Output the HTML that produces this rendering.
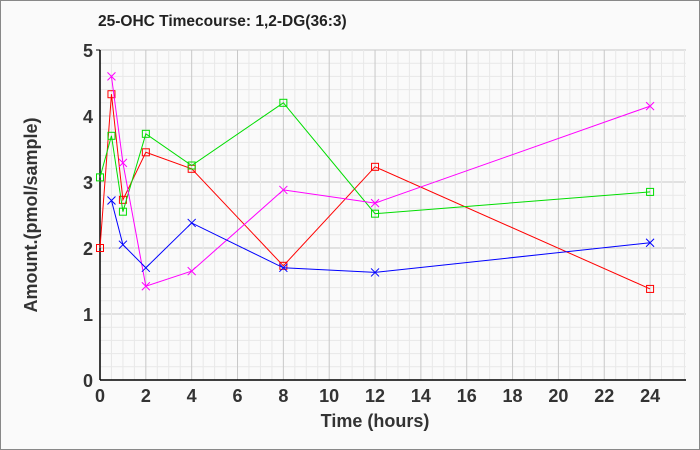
<!DOCTYPE html>
<html><head><meta charset="utf-8"><style>
html,body{margin:0;padding:0;background:#fafafa;}
svg{display:block;font-family:"Liberation Sans",sans-serif;}
</style></head><body>
<svg id="s" width="700" height="450" viewBox="0 0 700 450" xmlns="http://www.w3.org/2000/svg">
<rect x="0.5" y="0.5" width="699" height="449" fill="#fafafa" stroke="#888"/>
<g id="grid"></g>
<line x1="100" y1="50" x2="100" y2="380" stroke="#000" stroke-width="1.5"/>
<line x1="96" y1="50" x2="100" y2="50" stroke="#000"/>
<line x1="100" y1="380" x2="686" y2="380" stroke="#000" stroke-width="1.5"/>
<text x="98" y="26" font-size="15.5" font-weight="bold" fill="#222">25-OHC Timecourse: 1,2-DG(36:3)</text>
<g font-size="18" font-weight="bold" fill="#333" text-anchor="end" id="yl"></g>
<g font-size="18" font-weight="bold" fill="#333" text-anchor="middle" id="xl"></g>
<text x="375" y="427" font-size="18" font-weight="bold" fill="#333" text-anchor="middle">Time (hours)</text>
<text transform="translate(37,215) rotate(-90)" font-size="18" font-weight="bold" fill="#333" text-anchor="middle">Amount.(pmol/sample)</text>
<g id="series" fill="none"></g>
</svg>
<script>
var NS="http://www.w3.org/2000/svg";
function el(p,t,a,txt){var e=document.createElementNS(NS,t);for(var k in a)e.setAttribute(k,a[k]);if(txt!=null)e.textContent=txt;document.getElementById(p).appendChild(e);return e;}
var X=function(t){return 100+t*22.92;},Y=function(v){return 380-v*66;};
for(var i=1;i<=25;i++){var yy=Y(i*0.2);el("grid","line",{x1:100,x2:686,y1:yy,y2:yy,stroke:i%5==0?"#c8c8c8":"#e8e8e8"});}
for(var i=1;i<=51;i++){var xx=X(i*0.5);if(xx>686)break;el("grid","line",{x1:xx,x2:xx,y1:50,y2:380,stroke:i%4==0?"#c8c8c8":"#e8e8e8"});}
for(var v=0;v<=5;v++)el("yl","text",{x:93,y:Y(v)+7},v);
for(var t=0;t<=24;t+=2)el("xl","text",{x:X(t),y:402},t);
var S=[["#ff0000",[0,0.5,1,2,4,8,12,24],[2.0,4.33,2.73,3.45,3.2,1.73,3.23,1.38],"sq"],
["#00dd00",[0,0.5,1,2,4,8,12,24],[3.07,3.7,2.55,3.73,3.25,4.2,2.52,2.85],"sq"],
["#ff00ff",[0.5,1,2,4,8,12,24],[4.6,3.29,1.42,1.65,2.88,2.68,4.15],"x"],
["#0000ff",[0.5,1,2,4,8,12,24],[2.72,2.05,1.7,2.38,1.7,1.63,2.08],"x"]];
S.forEach(function(s){var ts=s[1];var pts=ts.map(function(t,i){return X(t)+","+Y(s[2][i]);}).join(" ");
el("series","polyline",{points:pts,stroke:s[0],"stroke-width":1});
ts.forEach(function(t,i){var x=X(t),y=Y(s[2][i]);
if(s[3]=="sq")el("series","rect",{x:x-3.5,y:y-3.5,width:7,height:7,stroke:s[0]});
else{el("series","path",{d:"M"+(x-4)+","+(y-4)+"L"+(x+4)+","+(y+4)+"M"+(x-4)+","+(y+4)+"L"+(x+4)+","+(y-4),stroke:s[0]});}});});
</script>
</body></html>
